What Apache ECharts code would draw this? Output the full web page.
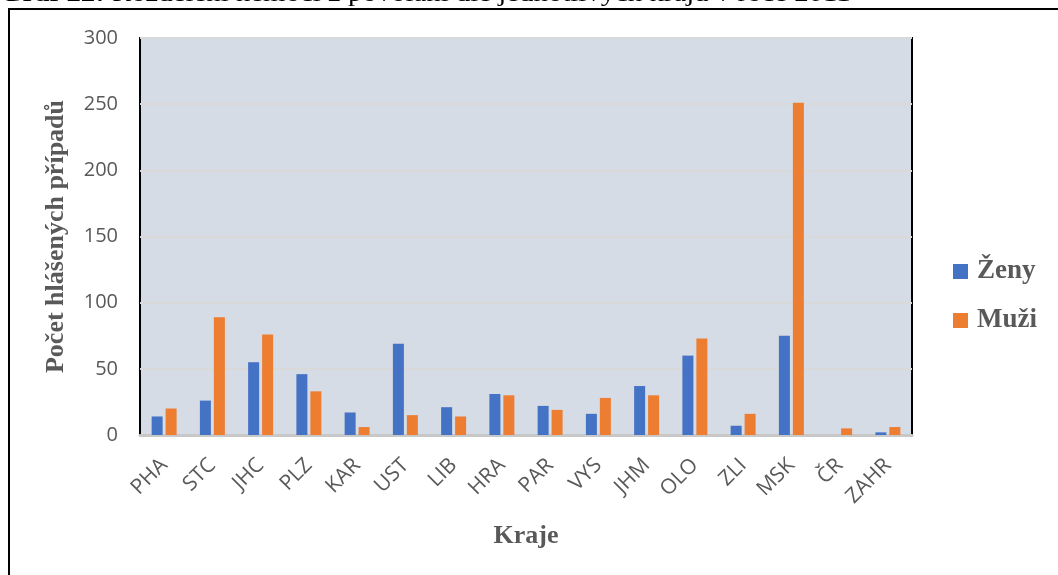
<!DOCTYPE html>
<html>
<head>
<meta charset="utf-8">
<script src="https://cdn.jsdelivr.net/npm/echarts@6/dist/echarts.min.js"></script>
<style>
html,body{margin:0;padding:0;background:#fff;}
#chart{width:1058px;height:575px;}
</style>
</head>
<body>
<div id="chart"></div>
<script>
const categories = ['PHA','STC','JHC','PLZ','KAR','UST','LIB','HRA','PAR','VYS','JHM','OLO','ZLI','MSK','ČR','ZAHR'];
const zeny = [14,26,55,46,17,69,21,31,22,16,37,60,7,75,0,2];
const muzi = [20,89,76,33,6,15,14,30,19,28,30,73,16,251,5,6];
const yTicks = [0,50,100,150,200,250,300];
const seriesNames = ['Ženy','Muži'];
const titleBold = 'Graf 22:';
const titleRest = ' Rozdělení nemocí z povolání dle jednotlivých krajů v roce 2011';

const chart = echarts.init(document.getElementById('chart'));
const gray = '#595959';
const serif = '"Liberation Serif","DejaVu Serif",serif';
const sans = '"Open Sans","Noto Sans",sans-serif';

chart.setOption({
  animation: false,
  backgroundColor: '#ffffff',
  graphic: [
    { type: 'line', shape: { x1: 9, y1: 8, x2: 9, y2: 575 }, style: { stroke: '#000', lineWidth: 2 }, z: 10 },
    { type: 'line', shape: { x1: 8, y1: 9, x2: 1058, y2: 9 }, style: { stroke: '#000', lineWidth: 2 }, z: 10 },
    { type: 'text', x: 0, y: -17, scaleX: 1.2, z: 9,
      style: { text: '{b|' + titleBold + '}{r|' + titleRest + '}',
        rich: { b: { fontFamily: serif, fontSize: 24, fontWeight: 'bold', fill: '#000' },
                r: { fontFamily: serif, fontSize: 24, fill: '#000' } } } }
  ],
  grid: { left: 140, right: 146, top: 38, bottom: 140, show: true,
    backgroundColor: '#D6DCE5', borderColor: '#000', borderWidth: 2 },
  legend: {
    orient: 'vertical', left: 948, top: 253, itemWidth: 15, itemHeight: 15, itemGap: 22,
    icon: 'rect', data: seriesNames,
    textStyle: { fontFamily: serif, fontSize: 27, fontWeight: 'bold', color: gray, padding: [0, 0, 0, 4] }
  },
  xAxis: {
    type: 'category', data: categories,
    axisLine: { show: true, lineStyle: { color: '#C8C8C8', width: 3 } },
    axisTick: { show: false },
    axisLabel: { rotate: 45, margin: 27, interval: 0, fontFamily: sans, fontSize: 21, color: gray },
    name: 'Kraje', nameLocation: 'middle', nameGap: 88,
    nameTextStyle: { fontFamily: serif, fontSize: 26, fontWeight: 'bold', color: gray }
  },
  yAxis: {
    type: 'value', min: 0, max: 300, interval: 50,
    axisLine: { show: false }, axisTick: { show: false },
    axisLabel: { margin: 22, fontFamily: sans, fontSize: 20, color: gray,
      formatter: v => yTicks.includes(v) ? String(v) : '' },
    splitLine: { show: true, lineStyle: { color: '#D9D9D9', width: 2 } },
    name: 'Počet hlášených případů', nameLocation: 'middle', nameGap: 71,
    nameTextStyle: { fontFamily: serif, fontSize: 26, fontWeight: 'bold', color: gray }
  },
  series: [
    { name: seriesNames[0], type: 'bar', data: zeny, barWidth: 11, barGap: '27%',
      itemStyle: { color: '#4472C4' } },
    { name: seriesNames[1], type: 'bar', data: muzi, barWidth: 11,
      itemStyle: { color: '#ED7D31' } }
  ]
});
</script>
</body>
</html>
